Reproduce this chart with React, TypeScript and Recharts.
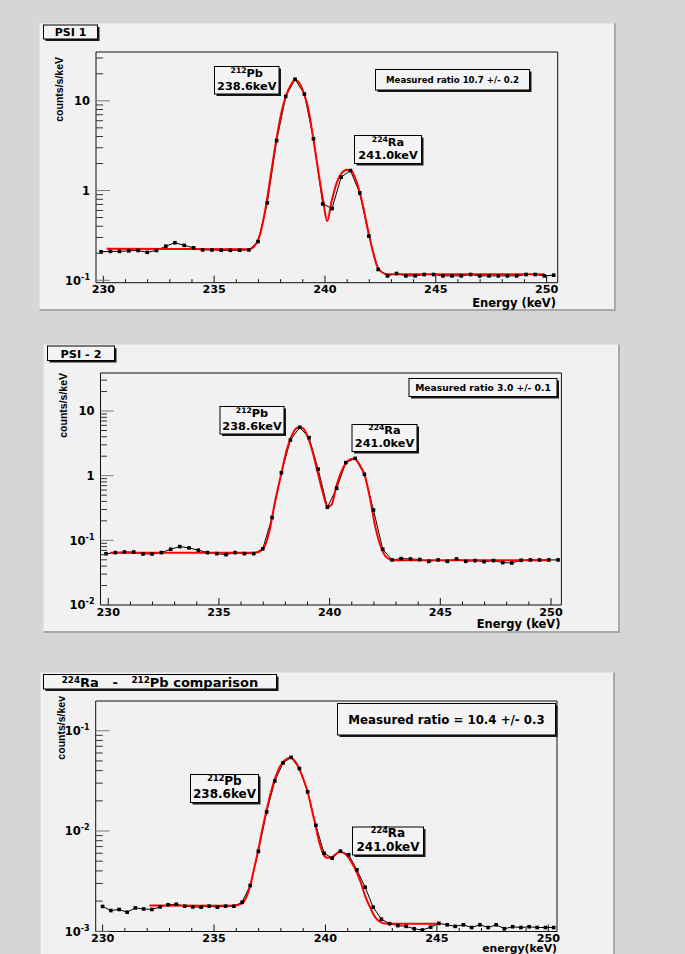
import React from 'react';
import { LineChart, Line, XAxis, YAxis } from 'recharts';

// bin centres (keV) of the PSI spectra
const ENERGY_PSI = [
  229.9, 230.32, 230.73, 231.15, 231.57, 231.98, 232.4, 232.82, 233.23, 233.65,
  234.07, 234.48, 234.9, 235.32, 235.73, 236.15, 236.57, 236.98, 237.4, 237.82,
  238.23, 238.65, 239.07, 239.48, 239.9, 240.32, 240.73, 241.15, 241.57, 241.98,
  242.4, 242.82, 243.23, 243.65, 244.07, 244.48, 244.9, 245.32, 245.73, 246.15,
  246.57, 246.98, 247.4, 247.82, 248.23, 248.65, 249.07, 249.48, 249.9, 250.32,
];

const PSI1_RATE = [
  0.208, 0.21, 0.21, 0.213, 0.215, 0.205, 0.215, 0.24, 0.262, 0.245,
  0.23, 0.218, 0.218, 0.216, 0.216, 0.216, 0.218, 0.27, 0.73, 3.6,
  11.2, 17.4, 11.9, 3.78, 0.71, 0.63, 1.41, 1.67, 0.94, 0.311,
  0.132, 0.112, 0.119, 0.112, 0.112, 0.116, 0.116, 0.112, 0.112, 0.112,
  0.116, 0.112, 0.112, 0.112, 0.112, 0.112, 0.116, 0.116, 0.112, 0.114,
];

const PSI1_FIT_E = [
  230.15, 236.6, 236.82, 237.05, 237.35, 237.58, 237.8, 238.03, 238.26, 238.48,
  238.64, 238.79, 239.02, 239.24, 239.47, 239.7, 239.92, 240.1, 240.3, 240.53,
  240.76, 240.98, 241.21, 241.44, 241.67, 241.89, 242.12, 242.35, 242.58, 242.8, 249.9,
];
const PSI1_FIT = [
  0.225, 0.222, 0.24, 0.311, 0.7, 1.64, 3.59, 7.3, 11.7, 15.3,
  17.1, 16.4, 12.7, 8.3, 3.85, 1.64, 0.76, 0.456, 0.76, 1.22,
  1.57, 1.71, 1.64, 1.22, 0.76, 0.419, 0.231, 0.144, 0.122, 0.117, 0.117,
];

const PSI2_RATE = [
  0.062, 0.0646, 0.066, 0.066, 0.0616, 0.0616, 0.0646, 0.0728, 0.08, 0.0763,
  0.0703, 0.0646, 0.0623, 0.0601, 0.0646, 0.0623, 0.0623, 0.074, 0.225, 1.11,
  3.56, 5.6, 3.87, 1.26, 0.325, 0.638, 1.59, 1.85, 1.05, 0.295,
  0.0728, 0.0498, 0.0522, 0.0516, 0.0504, 0.0474, 0.0498, 0.0474, 0.0516, 0.0474,
  0.0486, 0.0468, 0.0486, 0.0453, 0.0447, 0.0492, 0.0498, 0.0498, 0.0498, 0.0498,
];

const PSI2_FIT_E = [
  230.1, 236.55, 236.84, 237.06, 237.29, 237.52, 237.82, 238.04, 238.27, 238.49,
  238.64, 238.8, 239.02, 239.25, 239.47, 239.7, 239.9, 240.08, 240.3, 240.53,
  240.75, 240.98, 241.13, 241.36, 241.58, 241.81, 242.03, 242.26, 242.48, 242.71, 243.0, 250.0,
];
const PSI2_FIT = [
  0.0645, 0.064, 0.067, 0.08, 0.145, 0.374, 1.09, 2.35, 4.0, 5.4,
  5.6, 5.4, 3.95, 2.2, 1.09, 0.535, 0.332, 0.352, 0.677, 1.15,
  1.59, 1.81, 1.82, 1.46, 1.03, 0.474, 0.184, 0.09, 0.0594, 0.051, 0.049, 0.049,
];

// bin centres (keV) of the comparison spectrum
const ENERGY_CMP = [
  230.0, 230.37, 230.74, 231.1, 231.47, 231.84, 232.21, 232.58, 232.94, 233.31,
  233.68, 234.05, 234.42, 234.78, 235.15, 235.52, 235.89, 236.26, 236.62, 236.99,
  237.36, 237.73, 238.1, 238.46, 238.83, 239.2, 239.57, 239.94, 240.3, 240.67,
  241.04, 241.41, 241.78, 242.14, 242.51, 242.88, 243.25, 243.62, 243.98, 244.35,
  244.72, 245.09, 245.46, 245.82, 246.19, 246.56, 246.93, 247.3, 247.66, 248.03,
  248.4, 248.77, 249.14, 249.5, 249.87, 250.24,
];
const CMP_RATE = [
  0.00177, 0.00161, 0.00165, 0.00155, 0.00171, 0.00167, 0.00165, 0.00175, 0.00184, 0.00186,
  0.00178, 0.00175, 0.00174, 0.00178, 0.00174, 0.00178, 0.00178, 0.00195, 0.00286, 0.00627,
  0.0155, 0.0316, 0.0479, 0.0542, 0.042, 0.0246, 0.0114, 0.006, 0.00537, 0.0063,
  0.0058, 0.0041, 0.00275, 0.00174, 0.00132, 0.00119, 0.00114, 0.00112, 0.00106, 0.00103,
  0.0011, 0.0012, 0.00116, 0.00112, 0.00116, 0.00109, 0.00116, 0.00109, 0.00116, 0.00106,
  0.00111, 0.00109, 0.00111, 0.00109, 0.00109, 0.00109,
];

const CMP_FIT_E = [
  232.1, 235.86, 236.27, 236.45, 236.61, 236.78, 236.98, 237.16, 237.34, 237.52,
  237.7, 237.88, 238.06, 238.25, 238.43, 238.62, 238.82, 239.0, 239.2, 239.38,
  239.55, 239.72, 239.9, 240.08, 240.28, 240.47, 240.65, 240.83, 241.02, 241.21,
  241.4, 241.6, 241.8, 242.0, 242.18, 242.37, 242.6, 242.8, 245.15,
];
const CMP_FIT = [
  0.00181, 0.0018, 0.0019, 0.00219, 0.00276, 0.00405, 0.0064, 0.0102, 0.0155, 0.0228,
  0.0316, 0.0405, 0.0479, 0.0522, 0.0542, 0.0501, 0.042, 0.0334, 0.0246, 0.0167,
  0.0114, 0.00777, 0.0059, 0.0054, 0.00546, 0.0059, 0.0062, 0.006, 0.0055, 0.0047,
  0.0039, 0.003, 0.00219, 0.00174, 0.00144, 0.00128, 0.0012, 0.00119, 0.00119,
];

const X_TICKS = [230, 231, 232, 233, 234, 235, 236, 237, 238, 239, 240, 241, 242, 243, 244, 245, 246, 247, 248, 249, 250];

const Y_TICKS_PSI1 = [
  0.1, 0.2, 0.3, 0.4, 0.5, 0.6, 0.7, 0.8, 0.9,
  1, 2, 3, 4, 5, 6, 7, 8, 9,
  10, 20, 30,
];
const Y_TICKS_PSI2 = [
  0.01, 0.02, 0.03, 0.04, 0.05, 0.06, 0.07, 0.08, 0.09,
  0.1, 0.2, 0.3, 0.4, 0.5, 0.6, 0.7, 0.8, 0.9,
  1, 2, 3, 4, 5, 6, 7, 8, 9,
  10, 20, 30,
];
const Y_TICKS_CMP = [
  0.001, 0.002, 0.003, 0.004, 0.005, 0.006, 0.007, 0.008, 0.009,
  0.01, 0.02, 0.03, 0.04, 0.05, 0.06, 0.07, 0.08, 0.09,
  0.1,
];

const FONT = '"DejaVu Sans", Verdana, sans-serif';
const FONT_NARROW = '"Liberation Sans", Arial, sans-serif';

const toPoints = (xs: number[], ys: number[]) => xs.map((e, i) => ({ e, v: ys[i] }));

const isDecade = (v: number) => {
  const l = Math.log10(v);
  return Math.abs(l - Math.round(l)) < 1e-6;
};

const XTick = (props: any) => {
  const { x, y, payload } = props;
  const major = payload.value % 5 === 0;
  return (
    <g>
      <line x1={x} x2={x} y1={y} y2={y - (major ? 7 : 3.5)} stroke="#111" strokeWidth={1} />
      {major && (
        <text x={x} y={y + 10.5} textAnchor="middle" fontFamily={FONT} fontWeight="bold" fontSize={11.2} fill="#000">
          {payload.value}
        </text>
      )}
    </g>
  );
};

const YTick = (props: any) => {
  const { x, y, payload, majorLen, minorLen } = props;
  const v = payload.value;
  const major = isDecade(v);
  const p = Math.round(Math.log10(v));
  return (
    <g>
      <line x1={x} x2={x + (major ? majorLen : minorLen)} y1={y} y2={y} stroke={major ? '#777' : '#333'} strokeWidth={1} />
      {major && (
        <text x={x - 6} y={y + 4.3} textAnchor="end" fontFamily={FONT} fontWeight="bold" fontSize={11.5} fill="#000">
          {p === 0 ? '1' : '10'}
          {p < 0 && (
            <tspan fontSize={8} dy={-5}>{String(p)}</tspan>
          )}
        </text>
      )}
    </g>
  );
};

const SquareDot = (props: any) => {
  const { cx, cy } = props;
  if (cx == null || cy == null) return null;
  return <rect x={cx - 1.8} y={cy - 1.8} width={3.6} height={3.6} fill="#000" />;
};

interface PanelProps {
  left: number;
  top: number;
  width: number;
  height: number;
  plot: { left: number; top: number; right: number; bottom: number };
  xDomain: [number, number];
  yDomain: [number, number];
  yTicks: number[];
  majorLen: number;
  minorLen: number;
  points: { e: number; v: number }[];
  fit: { e: number; v: number }[];
}

// plot = page coordinates of the frame; axes take 1px each, so margins are one less
const Panel: React.FC<PanelProps> = ({ left, top, width, height, plot, xDomain, yDomain, yTicks, majorLen, minorLen, points, fit }) => {
  const margin = {
    left: plot.left - left - 1,
    top: plot.top - top - 1,
    right: left + width - plot.right - 1,
    bottom: top + height - plot.bottom - 1,
  };
  return (
    <div
      style={{
        position: 'absolute',
        left,
        top,
        width,
        height,
        background: '#f1f1f1',
        boxSizing: 'border-box',
        borderTop: '1px solid #e2e2e2',
        borderLeft: '1px solid #e2e2e2',
        borderRight: '2px solid #a8a8a8',
        borderBottom: '2px solid #a8a8a8',
      }}
    >
      <div style={{ position: 'absolute', left: -1, top: -1 }}>
        <LineChart width={width} height={height} margin={margin}>
          <XAxis
            dataKey="e"
            type="number"
            domain={xDomain}
            allowDataOverflow
            ticks={X_TICKS}
            interval={0}
            height={1}
            tickSize={0}
            tickMargin={0}
            tickLine={false}
            axisLine={{ stroke: '#111' }}
            tick={(p: any) => <XTick {...p} />}
          />
          <XAxis xAxisId="frameTop" orientation="top" type="number" domain={xDomain} allowDataOverflow height={1} tick={false} tickLine={false} axisLine={{ stroke: '#111' }} />
          <YAxis
            dataKey="v"
            scale="log"
            type="number"
            domain={yDomain}
            allowDataOverflow
            ticks={yTicks}
            interval={0}
            width={1}
            tickSize={0}
            tickMargin={0}
            tickLine={false}
            axisLine={{ stroke: '#111' }}
            tick={(p: any) => <YTick {...p} majorLen={majorLen} minorLen={minorLen} />}
          />
          <YAxis yAxisId="frameRight" orientation="right" scale="log" type="number" domain={yDomain} allowDataOverflow width={1} tick={false} tickLine={false} axisLine={{ stroke: '#111' }} />
          <Line data={points} dataKey="v" type="linear" stroke="#000" strokeWidth={1} dot={false} isAnimationActive={false} />
          <Line data={fit} dataKey="v" type="monotone" stroke="#ff0000" strokeWidth={2} dot={false} isAnimationActive={false} />
          <Line data={points} dataKey="v" type="linear" stroke="none" dot={<SquareDot />} isAnimationActive={false} />
        </LineChart>
      </div>
    </div>
  );
};

const Pave = ({ x, y, w, h, children }: { x: number; y: number; w: number; h: number; children?: React.ReactNode }) => (
  <g>
    <rect x={x + 2} y={y + 2} width={w} height={h} fill="#1a1a1a" />
    <rect x={x} y={y} width={w} height={h} fill="#f4f4f4" stroke="#000" strokeWidth={1} />
    {children}
  </g>
);

const PeakLabel = ({ x, y, w, h, mass, el, energy, size }: any) => (
  <Pave x={x} y={y} w={w} h={h}>
    <text x={x + w / 2} y={y + h * 0.37} textAnchor="middle" fontFamily={FONT} fontWeight="bold" fontSize={size} fill="#000">
      <tspan fontSize={size * 0.68} dy={-4}>{mass}</tspan>
      <tspan dy={4}>{el}</tspan>
    </text>
    <text x={x + w / 2} y={y + h * 0.84} textAnchor="middle" fontFamily={FONT} fontWeight="bold" fontSize={size} fill="#000">
      {energy}
    </text>
  </Pave>
);

const YLabel = ({ x, y, text }: { x: number; y: number; text: string }) => (
  <text x={x} y={y} transform={`rotate(-90, ${x}, ${y})`} textAnchor="end" fontFamily={FONT_NARROW} fontWeight="bold" fontSize={10.5} fill="#000">
    {text}
  </text>
);

const Annotations = () => (
  <svg width={685} height={954} style={{ position: 'absolute', left: 0, top: 0, pointerEvents: 'none' }}>
    {/* PSI 1 */}
    <Pave x={43.5} y={25} w={54} h={14}>
      <text x={70.5} y={36} textAnchor="middle" fontFamily={FONT} fontWeight="bold" fontSize={11} fill="#000">PSI 1</text>
    </Pave>
    <Pave x={375.5} y={69.5} w={154} h={20.5}>
      <text x={452.5} y={83} textAnchor="middle" fontFamily={FONT} fontWeight="bold" fontSize={8.6} fill="#000">Measured ratio 10.7 +/- 0.2</text>
    </Pave>
    <PeakLabel x={214.5} y={66.5} w={64.5} h={27.5} mass="212" el="Pb" energy="238.6keV" size={11.3} />
    <PeakLabel x={354.5} y={135.5} w={67} h={28} mass="224" el="Ra" energy="241.0keV" size={11.3} />
    <YLabel x={62.5} y={57} text="counts/s/keV" />
    <text x={556} y={306.5} textAnchor="end" fontFamily={FONT} fontWeight="bold" fontSize={11.5} fill="#000">Energy (keV)</text>

    {/* PSI - 2 */}
    <Pave x={47.5} y={346} w={67} h={14.5}>
      <text x={81} y={357.5} textAnchor="middle" fontFamily={FONT} fontWeight="bold" fontSize={11.3} fill="#000">PSI - 2</text>
    </Pave>
    <Pave x={409} y={378.5} w={148} h={18}>
      <text x={483} y={391} textAnchor="middle" fontFamily={FONT} fontWeight="bold" fontSize={9.2} fill="#000">Measured ratio 3.0 +/- 0.1</text>
    </Pave>
    <PeakLabel x={220} y={406.5} w={64} h={27.5} mass="212" el="Pb" energy="238.6keV" size={11.3} />
    <PeakLabel x={352} y={424.5} w={65} h={27} mass="224" el="Ra" energy="241.0keV" size={11.3} />
    <YLabel x={66.5} y={373} text="counts/s/keV" />
    <text x={560.5} y={628} textAnchor="end" fontFamily={FONT} fontWeight="bold" fontSize={11.5} fill="#000">Energy (keV)</text>

    {/* comparison */}
    <Pave x={43.5} y={674.5} w={233} h={14.5}>
      <text x={160} y={686.5} textAnchor="middle" fontFamily={FONT} fontWeight="bold" fontSize={13} fill="#000" xmlSpace="preserve">
        <tspan fontSize={8.8} dy={-4}>224</tspan>
        <tspan dy={4}>{'Ra   -   '}</tspan>
        <tspan fontSize={8.8} dy={-4}>212</tspan>
        <tspan dy={4}>Pb comparison</tspan>
      </text>
    </Pave>
    <Pave x={337.5} y={703.5} w={218} h={31.5}>
      <text x={446.5} y={723.5} textAnchor="middle" fontFamily={FONT} fontWeight="bold" fontSize={11.8} fill="#000">Measured ratio = 10.4 +/- 0.3</text>
    </Pave>
    <PeakLabel x={190.5} y={774.5} w={68} h={28} mass="212" el="Pb" energy="238.6keV" size={12} />
    <PeakLabel x={352.5} y={827} w={71} h={28} mass="224" el="Ra" energy="241.0keV" size={12} />
    <YLabel x={64.5} y={696} text="counts/s/kev" />
    <text x={557} y={951.5} textAnchor="end" fontFamily={FONT} fontWeight="bold" fontSize={10.8} fill="#000">energy(keV)</text>
  </svg>
);

export default function App() {
  return (
    <div
      style={{
        position: 'absolute',
        left: 0,
        top: 0,
        width: 685,
        height: 954,
        overflow: 'hidden',
        background: '#d6d6d6',
      }}
    >
      <Panel
        left={39}
        top={23}
        width={577}
        height={288}
        plot={{ left: 96, top: 52, right: 557.7, bottom: 282.7 }}
        xDomain={[229.67, 250.5]}
        yDomain={[0.094, 35]}
        yTicks={Y_TICKS_PSI1}
        majorLen={14}
        minorLen={7}
        points={toPoints(ENERGY_PSI, PSI1_RATE)}
        fit={toPoints(PSI1_FIT_E, PSI1_FIT)}
      />
      <Panel
        left={43}
        top={344}
        width={577}
        height={289}
        plot={{ left: 100.5, top: 373, right: 561.4, bottom: 605 }}
        xDomain={[229.65, 250.47]}
        yDomain={[0.01, 38.7]}
        yTicks={Y_TICKS_PSI2}
        majorLen={13}
        minorLen={6.5}
        points={toPoints(ENERGY_PSI, PSI2_RATE)}
        fit={toPoints(PSI2_FIT_E, PSI2_FIT)}
      />
      <Panel
        left={40}
        top={672}
        width={575}
        height={291}
        plot={{ left: 95.7, top: 701, right: 557, bottom: 931.5 }}
        xDomain={[229.69, 250.39]}
        yDomain={[0.000995, 0.198]}
        yTicks={Y_TICKS_CMP}
        majorLen={14}
        minorLen={7}
        points={toPoints(ENERGY_CMP, CMP_RATE)}
        fit={toPoints(CMP_FIT_E, CMP_FIT)}
      />
      <Annotations />
    </div>
  );
}
